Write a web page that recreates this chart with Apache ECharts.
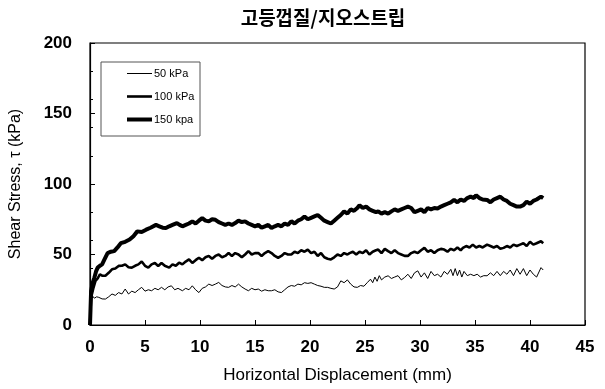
<!DOCTYPE html>
<html>
<head>
<meta charset="utf-8">
<script src="https://cdn.jsdelivr.net/npm/echarts@6/dist/echarts.min.js"></script>
<style>
  html, body { margin: 0; padding: 0; background: #fff; }
  #chart { width: 605px; height: 389px; }
</style>
</head>
<body>
<div id="chart"></div>
<script>
// Shear stress vs. horizontal displacement for three normal stresses
const titleText = '고등껍질/지오스트립';
const seriesNames = ['50 kPa', '100 kPa', '150 kpa'];
const xTicks = [0, 5, 10, 15, 20, 25, 30, 35, 40, 45];
const yTicks = [0, 50, 100, 150, 200];

// [displacement (mm), shear stress (kPa)]
const stress50 = [
  [0,0],[0.05,10],[0.1,15],[0.2,20.8],[0.4,19],[0.6,20],[0.8,19.6],[1.1,18.5],[1.4,18.4],[1.7,20],
  [2.0,22],[2.3,21],[2.6,23],[2.9,22],[3.2,25.5],[3.5,22],[3.8,24],[4.1,23],[4.4,25],[4.7,26.7],
  [5.0,24],[5.3,25],[5.6,24.3],[5.9,26],[6.2,25],[6.5,26.7],[6.8,25],[7.1,27],[7.4,27.8],[7.7,25],
  [8.0,26],[8.4,24.3],[8.7,26],[9.0,25],[9.3,27.8],[9.6,25],[9.9,23],[10.2,26],[10.5,27],[10.8,29],
  [11.1,28],[11.4,29],[11.7,30.2],[12.0,28],[12.3,27],[12.6,26.7],[12.9,28],[13.2,27],[13.5,29],[13.8,27],
  [14.1,25.5],[14.4,24.3],[14.7,26],[15.0,25],[15.3,25.5],[15.6,24],[15.9,25],[16.2,24.3],[16.5,24.3],[16.8,25],
  [17.1,23.5],[17.4,23],[17.7,25],[18.0,27],[18.3,28],[18.6,27.5],[18.9,29],[19.2,28.5],[19.5,30],[19.8,29.5],
  [20.1,30],[20.4,29],[20.7,28],[21.0,27.5],[21.3,26.7],[21.6,26.7],[21.9,26],[22.2,25.5],[22.5,27],[22.8,31.3],
  [23.1,30],[23.4,32],[23.7,29],[24.0,27],[24.3,26.7],[24.6,28],[24.9,27.5],[25.2,30],[25.5,32.5],[25.7,30],
  [25.9,34],[26.1,31],[26.3,35],[26.5,32],[26.8,34],[27.1,34.9],[27.4,33],[27.7,34],[28.0,35],[28.3,32],
  [28.6,33.7],[28.9,36],[29.2,33],[29.5,37],[29.8,38.4],[30.1,34],[30.4,37],[30.7,33],[31.0,38],[31.3,35],
  [31.6,36],[31.9,34],[32.2,38],[32.5,36],[32.8,39.5],[33.0,35],[33.2,40],[33.4,35],[33.6,39],[33.8,34],
  [34.0,38],[34.3,35],[34.6,36],[34.9,35],[35.2,36],[35.5,34],[35.8,35],[36.1,34.9],[36.4,37],[36.7,35],
  [37.0,38],[37.3,35],[37.6,38],[37.9,36],[38.2,39],[38.5,35],[38.8,40],[39.1,36],[39.4,40],[39.7,35],
  [40.0,39],[40.3,36],[40.6,34],[41.0,40.7],[41.2,39]
];

const stress100 = [
  [0,0],[0.05,10],[0.1,19.6],[0.3,26],[0.5,31.3],[0.7,33],[0.9,36],[1.1,35],[1.4,34.9],[1.7,37],
  [2.0,39.5],[2.3,40],[2.6,41.9],[2.9,42],[3.2,43],[3.5,41],[3.8,40.7],[4.1,42],[4.4,43],[4.7,45],
  [5.0,42],[5.3,40.7],[5.6,43],[5.9,44],[6.2,41.9],[6.5,44],[6.8,42],[7.2,40.7],[7.5,43],[7.8,42],
  [8.1,44.2],[8.4,43],[8.7,45],[9.0,46.5],[9.3,44],[9.6,46],[9.9,47.7],[10.2,46],[10.5,48],[10.8,49],
  [11.1,47],[11.4,49],[11.7,50],[12.0,48],[12.3,49],[12.6,51],[12.9,49],[13.2,51],[13.5,50],[13.8,48],
  [14.1,50],[14.4,52.4],[14.7,50],[15.0,51],[15.3,51],[15.6,49],[15.9,51],[16.2,52.4],[16.5,51],[16.8,49],
  [17.1,47.7],[17.4,49],[17.7,51],[18.0,50],[18.3,50],[18.6,52],[18.9,51],[19.2,53],[19.5,52],[19.8,53.5],
  [20.1,51],[20.4,52],[20.7,49],[21.0,51],[21.3,48],[21.6,47],[21.9,46.5],[22.2,48],[22.5,50],[22.8,49],
  [23.1,51],[23.4,50],[23.6,51],[23.9,52],[24.2,50],[24.5,52],[24.8,51],[25.1,53],[25.4,50],[25.7,52],
  [26.0,53],[26.2,53.5],[26.5,51],[26.8,54],[27.1,52.4],[27.4,51],[27.7,53],[28.0,51],[28.3,50],[28.6,49],
  [28.9,49],[29.2,51],[29.5,52],[29.8,51],[30.1,53],[30.4,54.7],[30.7,52],[31.0,53],[31.3,51],[31.6,53],
  [31.9,54],[32.2,53.5],[32.5,52],[32.8,54],[33.1,53],[33.4,55],[33.7,53],[33.9,54.7],[34.2,56],[34.5,55],
  [34.8,57],[35.1,55],[35.4,56],[35.7,55],[36.1,57],[36.4,56],[36.7,55],[37.0,56],[37.3,54],[37.6,54.7],
  [37.9,56],[38.2,55],[38.5,57],[38.8,56],[39.1,57],[39.4,58],[39.7,56],[40.0,59],[40.3,57],[40.6,58],
  [41.0,59.4],[41.2,58]
];

const stress150 = [
  [0,0],[0.05,12],[0.1,24],[0.25,30],[0.4,33.7],[0.55,38],[0.7,40.7],[0.9,42],[1.1,43],[1.35,47],
  [1.6,51],[1.9,52],[2.2,52.4],[2.5,55],[2.8,58],[3.2,59],[3.6,60.6],[3.95,63],[4.3,66.4],[4.7,66],
  [5.1,67.6],[5.5,69],[6.0,71],[6.3,70],[6.6,69],[6.9,68.8],[7.2,70],[7.5,71],[7.9,72.3],[8.15,71],
  [8.4,70],[8.7,71],[9.0,72],[9.3,73.5],[9.6,72],[9.9,74],[10.2,75.8],[10.5,74],[10.8,73.5],[11.1,75],
  [11.4,74.6],[11.7,73],[12.0,72],[12.3,71],[12.6,72],[12.9,71],[13.2,72.3],[13.5,74],[13.8,73],[14.1,73.5],
  [14.4,72],[14.7,71],[15.0,70],[15.3,71],[15.6,69],[15.9,70],[16.2,71],[16.5,68.8],[16.8,70],[17.1,71],
  [17.4,70],[17.7,72],[18.0,71],[18.3,73.6],[18.6,72],[18.9,74],[19.2,75],[19.5,77],[19.8,75],[20.1,76],
  [20.4,77],[20.7,78],[21.0,76],[21.3,74],[21.6,73],[21.9,72],[22.2,74],[22.5,76],[22.8,78],[23.1,80.6],
  [23.4,79],[23.7,82],[24.0,81],[24.3,83],[24.5,85],[24.8,83],[25.1,84],[25.4,82],[25.7,81],[26.0,80],
  [26.2,80.6],[26.5,79],[26.8,80],[27.1,79],[27.4,80.6],[27.7,82],[28.0,81],[28.3,82],[28.6,83],[28.9,84],
  [29.2,83],[29.5,80],[29.8,81],[30.1,82],[30.4,80],[30.7,83],[31.0,82],[31.3,83],[31.6,82.7],[31.9,84],
  [32.2,85],[32.5,86],[32.8,87],[33.1,88.7],[33.4,87],[33.7,89],[34.0,88],[34.3,90],[34.6,91],[34.9,90],
  [35.1,92],[35.4,90],[35.7,89],[36.1,88.7],[36.4,87],[36.7,89],[37.0,90],[37.3,91],[37.6,89],[37.9,88],
  [38.2,86],[38.5,85],[38.8,84],[39.1,84],[39.4,85],[39.7,87.5],[40.0,86],[40.3,88],[40.6,89],[41.0,91],
  [41.2,90]
];

const lineWidths = [1, 2.6, 4];

const chart = echarts.init(document.getElementById('chart'), null, { renderer: 'canvas' });

const tickFont = { color: '#000', fontFamily: 'Liberation Sans, Arial, sans-serif', fontWeight: 'bold', fontSize: 17 };
const legendTops = [68, 91, 114];

// one legend row per series so each key line gets its own thickness
const legends = seriesNames.map((name, i) => ({
  orient: 'vertical',
  left: 127,
  top: legendTops[i],
  data: [name],
  icon: 'rect',
  itemWidth: 25,
  itemHeight: lineWidths[i],
  itemGap: 0,
  padding: 0,
  selectedMode: false,
  textStyle: { fontFamily: 'Liberation Sans, Arial, sans-serif', fontSize: 11, color: '#000', padding: [0, 0, 0, -3] }
}));

chart.setOption({
  animation: false,
  backgroundColor: '#fff',
  title: {
    text: titleText,
    left: 318,
    top: 3,
    textAlign: 'center',
    textStyle: { fontFamily: 'Noto Sans CJK KR, sans-serif', fontWeight: 'bold', fontSize: 19, color: '#000' }
  },
  grid: {
    left: 88, right: 20, top: 43, bottom: 61,
    show: true, borderColor: '#000', borderWidth: 1.2, backgroundColor: 'transparent'
  },
  graphic: [{
    type: 'rect',
    shape: { x: 101, y: 62, width: 99, height: 74 },
    style: { fill: '#fff', stroke: '#555', lineWidth: 1 },
    z: 3
  }],
  legend: legends,
  xAxis: {
    type: 'value',
    min: 0, max: 45, interval: 5,
    name: 'Horizontal Displacement (mm)',
    nameLocation: 'middle',
    nameGap: 42,
    nameTextStyle: { fontFamily: 'Liberation Sans, Arial, sans-serif', fontSize: 17, color: '#000' },
    axisLine: { lineStyle: { color: '#000', width: 1.2 } },
    axisTick: { inside: true, length: 5, lineStyle: { color: '#000', width: 1 } },
    axisLabel: Object.assign({ margin: 14, formatter: v => xTicks.includes(v) ? String(v) : '' }, tickFont),
    splitLine: { show: false }
  },
  yAxis: [
    {
      type: 'value',
      min: 0, max: 200, interval: 50,
      name: 'Shear Stress, τ (kPa)',
      nameLocation: 'middle',
      nameGap: 66,
      nameTextStyle: { fontFamily: 'Liberation Sans, Arial, sans-serif', fontSize: 16, color: '#000' },
      axisLine: { show: true, lineStyle: { color: '#000', width: 1.2 } },
      axisTick: { inside: true, length: 5, lineStyle: { color: '#000', width: 1 } },
      axisLabel: Object.assign({ margin: 18, formatter: v => yTicks.includes(v) ? String(v) : '' }, tickFont),
      splitLine: { show: false }
    },
    {
      // finer inner ticks every 20 kPa
      type: 'value',
      min: 0, max: 200, interval: 20,
      position: 'left',
      axisLine: { show: false },
      axisTick: { show: true, inside: true, length: 3, lineStyle: { color: '#000', width: 1 } },
      axisLabel: { show: false },
      splitLine: { show: false }
    }
  ],
  series: [stress50, stress100, stress150].map((data, i) => ({
    name: seriesNames[i],
    type: 'line',
    data: data,
    symbol: 'none',
    lineStyle: { color: '#000', width: lineWidths[i] },
    itemStyle: { color: '#000' }
  }))
});
</script>
</body>
</html>
